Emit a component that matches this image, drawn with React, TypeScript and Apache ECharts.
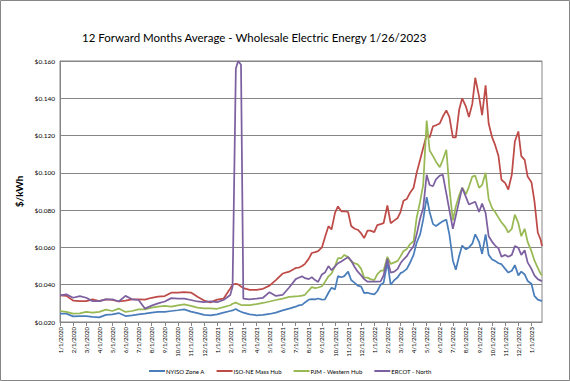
import React, { useEffect, useRef } from 'react';
import * as echarts from 'echarts';

const monthLabels = [
  '1/1/2020', '2/1/2020', '3/1/2020', '4/1/2020', '5/1/2020', '6/1/2020', '7/1/2020', '8/1/2020', '9/1/2020', '10/1/2020', '11/1/2020', '12/1/2020',
  '1/1/2021', '2/1/2021', '3/1/2021', '4/1/2021', '5/1/2021', '6/1/2021', '7/1/2021', '8/1/2021', '9/1/2021', '10/1/2021', '11/1/2021', '12/1/2021',
  '1/1/2022', '2/1/2022', '3/1/2022', '4/1/2022', '5/1/2022', '6/1/2022', '7/1/2022', '8/1/2022', '9/1/2022', '10/1/2022', '11/1/2022', '12/1/2022',
  '1/1/2023',
];

const dates = [
  '2020-01-01', '2020-01-16', '2020-02-01', '2020-02-16', '2020-03-01', '2020-03-16', '2020-04-01', '2020-04-16',
  '2020-05-01', '2020-05-16', '2020-06-01', '2020-06-16', '2020-07-01', '2020-07-16', '2020-08-01', '2020-08-16',
  '2020-09-01', '2020-09-16', '2020-10-01', '2020-10-16', '2020-11-01', '2020-11-16', '2020-12-01', '2020-12-16',
  '2021-01-01', '2021-01-16', '2021-02-01',
  '2021-02-06', '2021-02-13', '2021-02-18', '2021-02-24',
  '2021-03-01', '2021-03-16', '2021-04-01', '2021-04-16', '2021-05-01', '2021-05-16', '2021-06-01', '2021-06-16', '2021-07-01',
  '2021-07-08', '2021-07-16', '2021-07-23',
  '2021-08-01', '2021-08-08', '2021-08-16', '2021-08-23',
  '2021-09-01', '2021-09-08', '2021-09-16', '2021-09-23',
  '2021-10-01', '2021-10-08', '2021-10-16', '2021-10-23',
  '2021-11-01', '2021-11-08', '2021-11-16', '2021-11-23',
  '2021-12-01', '2021-12-08', '2021-12-16', '2021-12-23',
  '2022-01-01', '2022-01-08', '2022-01-16', '2022-01-23',
  '2022-02-01', '2022-02-08', '2022-02-16', '2022-02-23',
  '2022-03-01', '2022-03-08', '2022-03-16', '2022-03-23',
  '2022-04-01', '2022-04-08', '2022-04-16', '2022-04-23',
  '2022-05-01', '2022-05-08', '2022-05-16', '2022-05-23',
  '2022-06-01', '2022-06-08', '2022-06-16', '2022-06-23',
  '2022-07-01', '2022-07-08', '2022-07-16', '2022-07-23',
  '2022-08-01', '2022-08-08', '2022-08-16', '2022-08-23',
  '2022-09-01', '2022-09-08', '2022-09-16', '2022-09-23',
  '2022-10-01', '2022-10-08', '2022-10-16', '2022-10-23',
  '2022-11-01', '2022-11-08', '2022-11-16', '2022-11-23',
  '2022-12-01', '2022-12-08', '2022-12-16', '2022-12-23',
  '2023-01-01', '2023-01-08', '2023-01-16', '2023-01-23', '2023-01-26',
];

const nyisoZoneA = [
  0.0245, 0.0245, 0.0230, 0.0232, 0.0232, 0.0228, 0.0225, 0.0238, 0.0241, 0.0248, 0.0232, 0.0236, 0.0241, 0.0245,
  0.0250, 0.0254, 0.0254, 0.0259, 0.0263, 0.0268, 0.0256, 0.0248, 0.0238, 0.0236, 0.0241, 0.0250, 0.0259,
  0.0262, 0.0270, 0.0262, 0.0255,
  0.0250, 0.0241, 0.0236, 0.0238, 0.0243, 0.0250, 0.0262, 0.0272, 0.0282,
  0.0289, 0.0292, 0.0305,
  0.0320, 0.0323, 0.0321, 0.0326,
  0.0320, 0.0321, 0.0357, 0.0384,
  0.0375, 0.0446, 0.0440, 0.0446,
  0.0470, 0.0425, 0.0410, 0.0395,
  0.0390, 0.0355, 0.0357, 0.0352,
  0.0348, 0.0365, 0.0400, 0.0410,
  0.0520, 0.0400, 0.0425, 0.0440,
  0.0462, 0.0470, 0.0485, 0.0515,
  0.0560, 0.0625, 0.0670, 0.0749,
  0.0870, 0.0790, 0.0725, 0.0715,
  0.0730, 0.0740, 0.0749, 0.0670,
  0.0530, 0.0480, 0.0555, 0.0610,
  0.0590, 0.0600, 0.0620, 0.0670,
  0.0630, 0.0565, 0.0670, 0.0560,
  0.0535, 0.0528, 0.0515, 0.0510,
  0.0485, 0.0465, 0.0475, 0.0505,
  0.0450, 0.0470, 0.0455, 0.0420,
  0.0405, 0.0340, 0.0320, 0.0315, 0.0312,
];

const isoNeMassHub = [
  0.0343, 0.0340, 0.0315, 0.0312, 0.0312, 0.0321, 0.0312, 0.0321, 0.0318, 0.0310, 0.0315, 0.0321, 0.0321, 0.0320,
  0.0330, 0.0336, 0.0339, 0.0357, 0.0357, 0.0360, 0.0358, 0.0335, 0.0315, 0.0305, 0.0320, 0.0325, 0.0380,
  0.0400, 0.0405, 0.0402, 0.0390,
  0.0382, 0.0372, 0.0372, 0.0378, 0.0395, 0.0425, 0.0460, 0.0470, 0.0490,
  0.0491, 0.0500, 0.0512,
  0.0540, 0.0570, 0.0575, 0.0580,
  0.0600, 0.0655, 0.0714, 0.0696,
  0.0785, 0.0820, 0.0794, 0.0794,
  0.0790, 0.0715, 0.0700, 0.0695,
  0.0675, 0.0650, 0.0690, 0.0690,
  0.0682, 0.0720, 0.0725, 0.0730,
  0.0825, 0.0730, 0.0745, 0.0758,
  0.0790, 0.0850, 0.0860, 0.0890,
  0.0920, 0.1000, 0.1070, 0.1133,
  0.1204, 0.1190, 0.1250, 0.1255,
  0.1265, 0.1302, 0.1335, 0.1300,
  0.1190, 0.1190, 0.1340, 0.1400,
  0.1355, 0.1300, 0.1370, 0.1510,
  0.1410, 0.1310, 0.1470, 0.1265,
  0.1190, 0.1150, 0.1090, 0.0963,
  0.0945, 0.0910, 0.0990, 0.1168,
  0.1222, 0.1090, 0.1070, 0.0980,
  0.0950, 0.0850, 0.0680, 0.0640, 0.0607,
];

const pjmWesternHub = [
  0.0259, 0.0254, 0.0245, 0.0246, 0.0254, 0.0250, 0.0254, 0.0266, 0.0259, 0.0272, 0.0254, 0.0259, 0.0268, 0.0268,
  0.0277, 0.0282, 0.0286, 0.0282, 0.0289, 0.0294, 0.0286, 0.0277, 0.0273, 0.0273, 0.0271, 0.0280, 0.0290,
  0.0298, 0.0304, 0.0298, 0.0292,
  0.0290, 0.0290, 0.0296, 0.0302, 0.0310, 0.0318, 0.0325, 0.0335, 0.0338,
  0.0339, 0.0342, 0.0346,
  0.0370, 0.0387, 0.0382, 0.0385,
  0.0392, 0.0415, 0.0445, 0.0460,
  0.0500, 0.0542, 0.0542, 0.0560,
  0.0548, 0.0525, 0.0515, 0.0509,
  0.0485, 0.0438, 0.0438, 0.0430,
  0.0425, 0.0455, 0.0475, 0.0475,
  0.0550, 0.0512, 0.0520, 0.0528,
  0.0552, 0.0580, 0.0592, 0.0616,
  0.0633, 0.0758, 0.0847, 0.0935,
  0.1280, 0.1120, 0.1090, 0.1060,
  0.1030, 0.1070, 0.1124, 0.0920,
  0.0745, 0.0820, 0.0880, 0.0920,
  0.0885, 0.0925, 0.0980, 0.0985,
  0.0920, 0.0935, 0.1000, 0.0860,
  0.0810, 0.0790, 0.0760, 0.0735,
  0.0710, 0.0680, 0.0700, 0.0776,
  0.0730, 0.0660, 0.0700, 0.0630,
  0.0580, 0.0530, 0.0490, 0.0458, 0.0450,
];

const ercotNorth = [
  0.0343, 0.0348, 0.0330, 0.0339, 0.0330, 0.0312, 0.0312, 0.0321, 0.0322, 0.0310, 0.0340, 0.0322, 0.0318, 0.0272,
  0.0288, 0.0300, 0.0310, 0.0328, 0.0326, 0.0325, 0.0318, 0.0310, 0.0307, 0.0310, 0.0307, 0.0318, 0.0345,
  0.0390, 0.1560, 0.1600, 0.1580,
  0.0325, 0.0322, 0.0325, 0.0330, 0.0360, 0.0340, 0.0345, 0.0385, 0.0430,
  0.0437, 0.0445, 0.0435,
  0.0430, 0.0440, 0.0425, 0.0415,
  0.0455, 0.0465, 0.0500, 0.0478,
  0.0498, 0.0515, 0.0525, 0.0535,
  0.0548, 0.0530, 0.0495, 0.0470,
  0.0450, 0.0430, 0.0416, 0.0416,
  0.0416, 0.0416, 0.0418, 0.0450,
  0.0540, 0.0465, 0.0470, 0.0485,
  0.0515, 0.0535, 0.0553, 0.0580,
  0.0607, 0.0669, 0.0755, 0.0810,
  0.0990, 0.0935, 0.0928, 0.0965,
  0.0985, 0.0990, 0.0890, 0.0800,
  0.0700, 0.0770, 0.0850, 0.0920,
  0.0870, 0.0830, 0.0838, 0.0845,
  0.0790, 0.0835, 0.0785, 0.0660,
  0.0630, 0.0610, 0.0595, 0.0550,
  0.0560, 0.0550, 0.0560, 0.0607,
  0.0598, 0.0560, 0.0585, 0.0520,
  0.0485, 0.0450, 0.0430, 0.0422, 0.0419,
];

const seriesNames = ['NYISO Zone A', 'ISO-NE Mass Hub', 'PJM - Western Hub', 'ERCOT - North'];
const seriesColors = ['#4A7EBB', '#BE4B48', '#98B954', '#7D60A0'];
const seriesValues = [nyisoZoneA, isoNeMassHub, pjmWesternHub, ercotNorth];

const titleText = '12 Forward Months Average - Wholesale Electric Energy 1/26/2023';
const yAxisTitle = '$/kWh';
const yMin = 0.02;
const yMax = 0.16;
const yStep = 0.02;
const lastDate = '2023-01-26';

function monthIndex(d: string): number {
  const [y, m, day] = d.split('-').map(Number);
  const dim = new Date(y, m, 0).getDate();
  return (y - 2020) * 12 + (m - 1) + (day - 1) / dim;
}

export default function App() {
  const ref = useRef<HTMLDivElement>(null);
  useEffect(() => {
    if (!ref.current) return;
    const chart = echarts.init(ref.current, null, { renderer: 'svg' });
    const font = 'Lato, "Liberation Sans", Arial, sans-serif';
    const tickValues = monthLabels.map((_, i) => i);
    chart.setOption({
      animation: false,
      backgroundColor: '#ffffff',
      textStyle: { fontFamily: font },
      title: {
        text: titleText,
        left: 77,
        top: 26,
        textStyle: { fontFamily: font, fontSize: 11.5, fontWeight: 'normal', color: '#000' },
      },
      graphic: [
        {
          type: 'rect',
          shape: { x: 0.5, y: 0.5, width: 569, height: 380 },
          style: { fill: 'none', stroke: '#868686', lineWidth: 1 },
          silent: true,
        },
      ],
      legend: {
        data: seriesNames,
        left: 144,
        top: 363,
        icon: 'rect',
        itemWidth: 16,
        itemHeight: 2,
        itemGap: 12,
        textStyle: { fontFamily: font, fontSize: 6, color: '#000', padding: [0, 0, 0, -4] },
      },
      grid: {
        left: 60,
        top: 61,
        width: 482,
        height: 261,
        show: true,
        borderColor: '#868686',
        borderWidth: 1,
        containLabel: false,
      },
      xAxis: {
        type: 'value',
        min: 0,
        max: monthIndex(lastDate),
        interval: 1,
        axisLine: { show: true, lineStyle: { color: '#868686', width: 1 } },
        axisTick: { show: true, length: 4, lineStyle: { color: '#868686' }, customValues: tickValues },
        splitLine: { show: false },
        axisLabel: {
          customValues: tickValues,
          rotate: 90,
          margin: 5,
          fontSize: 6,
          fontFamily: font,
          color: '#000',
          formatter: (v: number) => {
            const i = Math.round(v);
            return Math.abs(v - i) < 1e-6 && monthLabels[i] ? monthLabels[i] : '';
          },
        },
      },
      yAxis: {
        type: 'value',
        min: yMin,
        max: yMax,
        interval: yStep,
        name: yAxisTitle,
        nameLocation: 'middle',
        nameGap: 33,
        nameRotate: 90,
        nameTextStyle: { fontFamily: font, fontSize: 10, fontWeight: 'bold', color: '#000' },
        axisLine: { show: true, lineStyle: { color: '#868686' } },
        axisTick: { show: false },
        splitLine: { show: true, lineStyle: { color: '#868686', width: 1 } },
        axisLabel: {
          margin: 5,
          fontSize: 6.5,
          fontFamily: font,
          color: '#000',
          formatter: (v: number) => '$' + v.toFixed(3),
        },
      },
      series: seriesNames.map((name, k) => ({
        name,
        type: 'line',
        showSymbol: false,
        symbol: 'none',
        color: seriesColors[k],
        lineStyle: { width: 1.75, color: seriesColors[k] },
        data: dates.map((d, i) => [monthIndex(d), seriesValues[k][i]]),
      })),
    });
    return () => chart.dispose();
  }, []);
  return (
    <div
      ref={ref}
      style={{ position: 'absolute', left: 0, top: 0, width: 570, height: 381, background: '#fff' }}
    />
  );
}
